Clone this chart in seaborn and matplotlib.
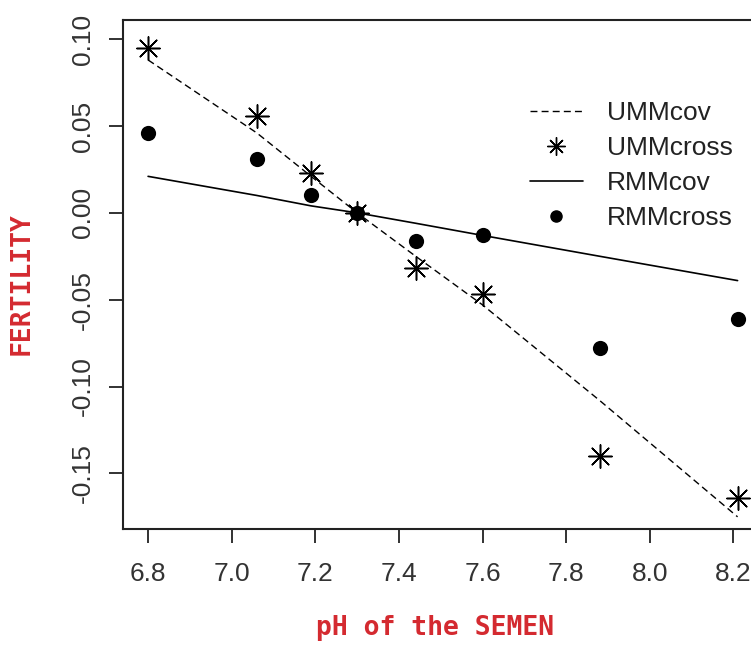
import numpy as np
import seaborn as sns
import matplotlib
matplotlib.use("Agg")
import matplotlib.pyplot as plt
from matplotlib.lines import Line2D

# ---------------------------------------------------------
# data
# ---------------------------------------------------------
ph = [6.80, 7.06, 7.19, 7.30, 7.44, 7.60, 7.88, 8.21]
umm_cov = [0.088, 0.046, 0.021, 0.000, -0.025, -0.053, -0.108, -0.175]
umm_cross = [0.095, 0.056, 0.023, 0.000, -0.032, -0.047, -0.140, -0.164]
rmm_cov = [0.021, 0.010, 0.004, 0.000, -0.006, -0.013, -0.025, -0.039]
rmm_cross = [0.046, 0.031, 0.010, 0.000, -0.016, -0.013, -0.078, -0.061]

x_ticks = [6.8, 7.0, 7.2, 7.4, 7.6, 7.8, 8.0, 8.2]
x_labels = ["6.8", "7.0", "7.2", "7.4", "7.6", "7.8", "8.0", "8.2"]
y_ticks = [0.10, 0.05, 0.00, -0.05, -0.10, -0.15]
y_labels = ["0.10", "0.05", "0.00", "-0.05", "-0.10", "-0.15"]
legend_labels = ["UMMcov", "UMMcross", "RMMcov", "RMMcross"]

# ---------------------------------------------------------
# style
# ---------------------------------------------------------
sns.set_style("white")
plt.rcParams["font.family"] = ["Liberation Sans", "DejaVu Sans"]
plt.rcParams["axes.unicode_minus"] = False

red = "#d42a30"
ink = "#222222"

fig = plt.figure(figsize=(7.51, 6.46), dpi=100)
# axes run off the right edge, as in the cropped original
ax = fig.add_axes([123 / 751, 117 / 646, 638 / 751, 509 / 646])

star = (8, 2, 0)

sns.lineplot(x=ph, y=umm_cov, ax=ax, color="black", lw=1.0,
             linestyle=(0, (5, 3)), sort=False, estimator=None)
sns.scatterplot(x=ph, y=umm_cross, ax=ax, marker=star, color="black",
                s=280, linewidth=1.1)
sns.lineplot(x=ph, y=rmm_cov, ax=ax, color="black", lw=1.2,
             sort=False, estimator=None)
sns.scatterplot(x=ph, y=rmm_cross, ax=ax, marker="o", color="black",
                s=120, linewidth=0, zorder=3)

ax.set_xlim(6.740, 8.266)
ax.set_ylim(-0.182, 0.111)
ax.set_xticks(x_ticks)
ax.set_xticklabels(x_labels)
ax.set_yticks(y_ticks)
ax.set_yticklabels(y_labels, rotation=90, va="center")

ax.tick_params(axis="both", direction="out", length=10, width=1.3,
               color=ink, labelsize=19, labelcolor="#333333",
               bottom=True, left=True)
ax.tick_params(axis="x", pad=14)
ax.tick_params(axis="y", pad=10)

for side in ["top", "left", "bottom", "right"]:
    ax.spines[side].set_color(ink)
    ax.spines[side].set_linewidth(1.5)

ax.set_xlabel("pH of the SEMEN", family="DejaVu Sans Mono", weight="bold",
              fontsize=19, color=red, va="center")
ax.xaxis.set_label_coords((435 - 123) / 638, (529 - 628) / 509)
ax.set_ylabel("FERTILITY", family="DejaVu Sans Mono", weight="bold",
              fontsize=19, color=red, va="center")
ax.yaxis.set_label_coords((22 - 123) / 638, (529 - 284) / 509)

handles = [
    Line2D([], [], color="black", lw=1.0, linestyle=(0, (5, 3))),
    Line2D([], [], color="black", marker=star, markersize=13, lw=0, mew=1.0),
    Line2D([], [], color="black", lw=1.2),
    Line2D([], [], color="black", marker="o", markersize=8, lw=0),
]
ax.legend(handles, legend_labels, loc="upper left", frameon=False,
          bbox_to_anchor=(530 / 751, 1 - 101 / 646), bbox_transform=fig.transFigure,
          borderaxespad=0, borderpad=0, fontsize=19, handlelength=2.0,
          handletextpad=0.9, labelspacing=0.42, labelcolor="#222222")

fig.savefig("out.png", dpi=100)
